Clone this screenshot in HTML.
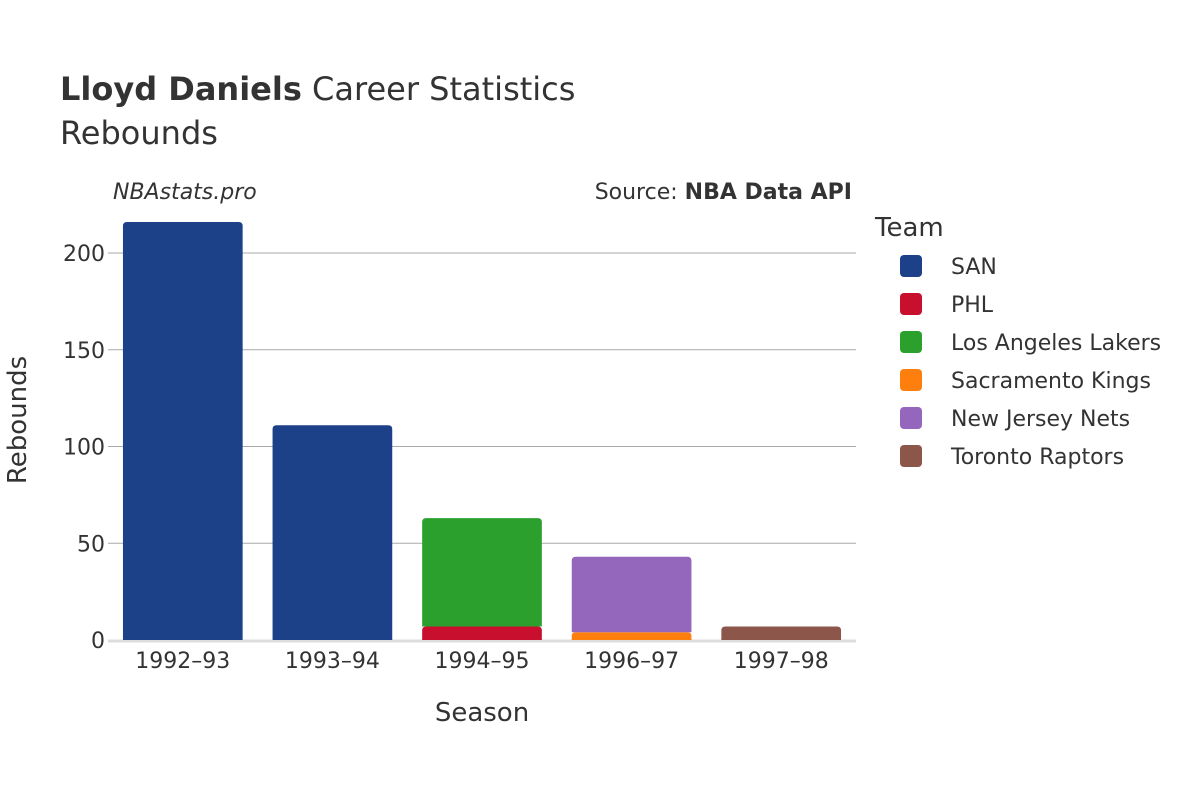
<!DOCTYPE html>
<html><head><meta charset="utf-8"><style>
body{margin:0;background:#fff;font-family:"DejaVu Sans","Liberation Sans",sans-serif;}
svg text{font-family:"DejaVu Sans","Liberation Sans",sans-serif;fill:#333;}
</style></head><body>
<svg id="chart" width="1200" height="800">
<text x="60" y="100" font-size="32"><tspan font-weight="bold">Lloyd Daniels</tspan> Career Statistics</text>
<text x="60" y="144" font-size="32">Rebounds</text>
<text x="113" y="199" font-size="22" font-style="italic">NBAstats.pro</text>
<text x="852" y="199" font-size="22" text-anchor="end">Source: <tspan font-weight="bold">NBA Data API</tspan></text>
<g id="grid"></g><g id="bars"></g><g id="xticks"></g><g id="yticks"></g>
<text x="482" y="721" font-size="26" text-anchor="middle">Season</text>
<text transform="translate(26,420) rotate(-90)" font-size="26" text-anchor="middle">Rebounds</text>
<text x="875" y="236" font-size="26">Team</text>
<g id="legend"></g>
</svg>
<script>
const seasons=["1992–93","1993–94","1994–95","1996–97","1997–98"];
const teams=["SAN","PHL","Los Angeles Lakers","Sacramento Kings","New Jersey Nets","Toronto Raptors"];
const colors=["#1c4189","#c8102e","#2ca02c","#ff7f0e","#9467bd","#8c564b"];
const SAN=[216,111,0,0,0];
const PHL=[0,0,7,0,0];
const LAL=[0,0,56,0,0];
const SAC=[0,0,0,4,0];
const NJN=[0,0,0,39,0];
const TOR=[0,0,0,0,7];
const series=[SAN,PHL,LAL,SAC,NJN,TOR];
const yTicks=[0,50,100,150,200];
const NS="http://www.w3.org/2000/svg";
const x0=108,x1=856,y0=640,yMax=200,yMaxPx=253;
const band=(x1-x0)/seasons.length;
const y=v=>y0-v*(y0-yMaxPx)/yMax;
const xc=i=>x0+band*(i+0.5);
function mk(t,a,p){const e=document.createElementNS(NS,t);for(const k in a)e.setAttribute(k,a[k]);p.appendChild(e);return e;}
const grid=document.getElementById('grid'),yt=document.getElementById('yticks');
yTicks.forEach(v=>{
 if(v>0){const l=mk('line',{x1:x0,x2:x1,y1:y(v),y2:y(v),stroke:'#aaa','stroke-width':1},grid);
 
 }
 const t=mk('text',{x:x0-3,y:y(v)+8,'font-size':22,'text-anchor':'end'},yt);t.textContent=v;
 
 
});
const base=mk('line',{x1:x0,x2:x1,y1:y0+1,y2:y0+1,stroke:'#ddd','stroke-width':3},grid);


const bars=document.getElementById('bars'),xt=document.getElementById('xticks');
const bw=band*0.8;
seasons.forEach((s,i)=>{
 let cum=0;
 series.forEach((ser,k)=>{
  const v=ser[i];if(!v)return;
  const top=y(cum+v),bot=y(cum);cum+=v;
  const r=Math.min(4,(bot-top)/2),xl=xc(i)-bw/2,xr=xc(i)+bw/2;
  const p=mk('path',{d:`M${xl},${bot}V${top+r}Q${xl},${top} ${xl+r},${top}H${xr-r}Q${xr},${top} ${xr},${top+r}V${bot}Z`,fill:colors[k]},bars);
  
  
 });
 const t=mk('text',{x:xc(i),y:668,'font-size':22,'text-anchor':'middle'},xt);t.textContent=s;
 
 
});
const lg=document.getElementById('legend');
teams.forEach((tm,k)=>{
 const g=mk('g',{},lg);
 
 
 mk('rect',{x:900,y:255+k*38,width:22,height:22,rx:4,fill:colors[k]},g);
 const t=mk('text',{x:951,y:274+k*38,'font-size':22},g);t.textContent=tm;
});
</script>
</body></html>
